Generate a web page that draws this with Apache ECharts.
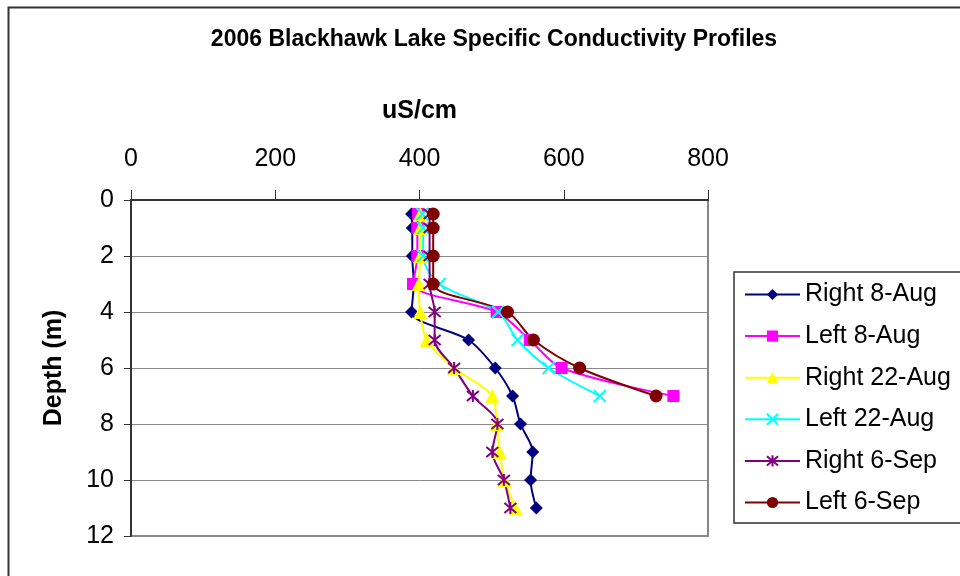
<!DOCTYPE html>
<html>
<head>
<meta charset="utf-8">
<script src="https://cdn.jsdelivr.net/npm/echarts@6/dist/echarts.min.js"></script>
<style>html,body{margin:0;padding:0;background:#fff;}#c{width:960px;height:576px;}</style>
</head>
<body>
<div id="c"></div>
<script>
const depthsRight = [0.5, 1, 2, 3, 4, 5, 6, 7, 8, 9, 10, 11];
const depthsLeft = [0.5, 1, 2, 3, 4, 5, 6, 7];
const xTicks = [0, 200, 400, 600, 800];
const yTicks = [0, 2, 4, 6, 8, 10, 12];
const right8Aug = [389, 390, 390, 392, 389, 468, 505, 529, 540, 557, 554, 562];
const left8Aug = [398, 397, 397, 391, 507, 553, 597, 752];
const right22Aug = [401, 401, 401, 399, 401, 410, 448, 501, 507, 511, 518, 533];
const left22Aug = [404, 405, 405, 428, 509, 536, 579, 650];
const right6Sep = [414, 414, 414, 414, 421, 421, 448, 474, 508, 501, 517, 526];
const left6Sep = [419, 419, 419, 419, 522, 558, 622, 728];
const seriesNames = ['Right 8-Aug', 'Left 8-Aug', 'Right 22-Aug', 'Left 22-Aug', 'Right 6-Sep', 'Left 6-Sep'];

const FONT = "'Liberation Sans', Arial, sans-serif";
function pairs(vals, depths) { return vals.map((v, i) => [v, depths[i]]); }

const xPath = 'path://M0,0L10,10M10,0L0,10';
const starPath = 'path://M0,0L10,10M10,0L0,10M5,-1L5,11';

function mk(name, vals, depths, color, symbol, size, stroke) {
  return {
    name: name,
    type: 'line',
    data: pairs(vals, depths),
    smooth: 0.3,
    symbol: symbol,
    symbolSize: size,
    showAllSymbol: true,
    lineStyle: { color: color, width: 2 },
    itemStyle: stroke ? { color: color, borderColor: color, borderWidth: 2 } : { color: color, borderWidth: 0 },
    emphasis: { disabled: true },
    z: 3
  };
}

const chart = echarts.init(document.getElementById('c'), null, { renderer: 'canvas' });
chart.setOption({
  animation: false,
  backgroundColor: '#ffffff',
  textStyle: { fontFamily: FONT },
  title: {
    text: '2006 Blackhawk Lake Specific Conductivity Profiles',
    left: 489, top: 23, textAlign: 'center',
    textStyle: { fontFamily: FONT, fontSize: 23, fontWeight: 'bold', color: '#000' }
  },
  graphic: [{
    type: 'rect', shape: { x: 8.5, y: 7.5, width: 1000, height: 1000 },
    style: { fill: 'none', stroke: '#333', lineWidth: 2 }, z: 0, silent: true
  }],
  legend: {
    orient: 'vertical',
    left: 734, top: 272,
    padding: [10, 30, 8, 10],
    itemWidth: 55, itemHeight: 14,
    itemGap: 16.6,
    borderColor: '#333', borderWidth: 1.5,
    backgroundColor: '#fff',
    data: seriesNames,
    textStyle: { fontFamily: FONT, fontSize: 25, color: '#000', lineHeight: 25 }
  },
  grid: {
    left: 131, top: 200, right: 252, bottom: 40,
    show: true, borderColor: '#888', borderWidth: 2, backgroundColor: 'transparent'
  },
  xAxis: {
    type: 'value', position: 'top', min: 0, max: 800, interval: 200,
    name: 'uS/cm', nameLocation: 'middle', nameGap: 76,
    nameTextStyle: { fontFamily: FONT, fontSize: 25, fontWeight: 'bold', color: '#000' },
    axisLine: { show: true, lineStyle: { color: '#333', width: 2 } },
    axisTick: { show: true, inside: false, length: 10, lineStyle: { color: '#333', width: 1 } },
    axisLabel: { fontFamily: FONT, fontSize: 25, color: '#000', margin: 28 },
    splitLine: { show: false }
  },
  yAxis: {
    type: 'value', inverse: true, min: 0, max: 12, interval: 2,
    name: 'Depth (m)', nameLocation: 'middle', nameGap: 64, nameRotate: 90,
    nameTextStyle: { fontFamily: FONT, fontSize: 25, fontWeight: 'bold', color: '#000' },
    axisLine: { show: true, lineStyle: { color: '#333', width: 2 } },
    axisTick: { show: true, inside: false, length: 7, lineStyle: { color: '#333', width: 1 } },
    axisLabel: { fontFamily: FONT, fontSize: 25, color: '#000', margin: 17 },
    splitLine: { show: true, lineStyle: { color: '#888', width: 1 } }
  },
  series: [
    mk(seriesNames[0], right8Aug, depthsRight, '#000080', 'diamond', 13, false),
    mk(seriesNames[1], left8Aug, depthsLeft, '#FF00FF', 'rect', 12, false),
    mk(seriesNames[2], right22Aug, depthsRight, '#FFFF00', 'triangle', 14, false),
    mk(seriesNames[3], left22Aug, depthsLeft, '#00FFFF', xPath, 12, true),
    mk(seriesNames[4], right6Sep, depthsRight, '#800080', starPath, 12, true),
    mk(seriesNames[5], left6Sep, depthsLeft, '#800000', 'circle', 13, false)
  ]
});
</script>
</body>
</html>
